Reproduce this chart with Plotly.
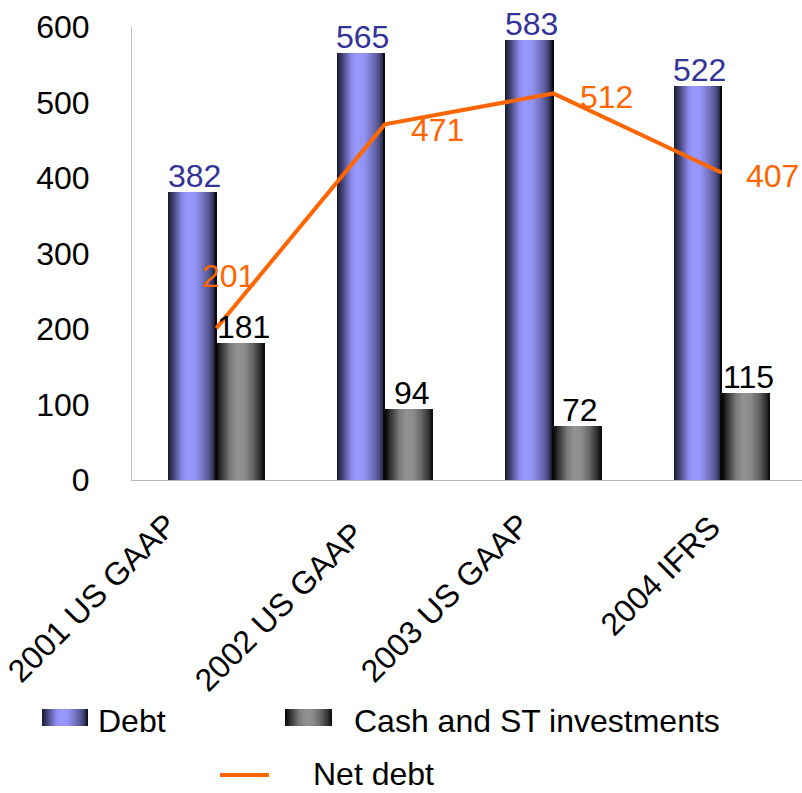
import plotly.graph_objects as go

# ---- data ----
categories = ["2001 US GAAP", "2002 US GAAP", "2003 US GAAP", "2004 IFRS"]
debt = [382, 565, 583, 522]
cash = [181, 94, 72, 115]
net_debt = [201, 471, 512, 407]
y_ticks = [0, 100, 200, 300, 400, 500, 600]

FONT = "Liberation Sans, Arial, sans-serif"
FS = 32

# geometry helpers (layout only)
L, R, T, B = 132, 802, 27, 480          # plot area in pixels
def fx(px):
    return (px - L) / (R - L)
def fy(py):
    return (B - py) / (B - T)

# gradient colour helpers
def hex2rgb(h):
    h = h.lstrip("#")
    return tuple(int(h[i:i + 2], 16) for i in (0, 2, 4))

def sample(scale, t):
    for (t0, c0), (t1, c1) in zip(scale[:-1], scale[1:]):
        if t0 <= t <= t1:
            f = 0 if t1 == t0 else (t - t0) / (t1 - t0)
            a, b = hex2rgb(c0), hex2rgb(c1)
            return "rgb(%d,%d,%d)" % tuple(round(a[i] + (b[i] - a[i]) * f) for i in range(3))
    return scale[-1][1]

debt_scale = [(0, "#1a1a30"), (0.12, "#45457a"), (0.3, "#8a8aec"), (0.4, "#9898ff"),
              (0.56, "#9393f6"), (0.72, "#7575c4"), (0.87, "#50508a"), (0.95, "#2c2c4c"),
              (1.0, "#000000")]
cash_scale = [(0, "#000000"), (0.1, "#2e2e2e"), (0.3, "#7c7c7c"), (0.45, "#929292"),
              (0.6, "#8a8a8a"), (0.76, "#666666"), (0.9, "#363636"), (1.0, "#0c0c0c")]

K = 48
BW = 48 / 168.5   # bar width in category units

fig = go.Figure()

def add_gradient_bars(values, name, scale, base):
    # each slice reaches to the bar's right edge; later slices cover earlier ones
    for j in range(K):
        t = (j + 0.5) / K
        fig.add_trace(go.Bar(
            x=categories, y=values, name=name,
            width=BW * (K - j) / K, offset=base + j * BW / K,
            marker=dict(color=sample(scale, t), line=dict(width=0)),
            showlegend=False,
            hoverinfo="x+y+name" if j == 0 else "skip",
        ))

add_gradient_bars(debt, "Debt", debt_scale, -BW)
add_gradient_bars(cash, "Cash and ST investments", cash_scale, 0)

fig.add_trace(go.Scatter(
    x=categories, y=net_debt, name="Net debt", mode="lines",
    line=dict(color="#ff6600", width=4), showlegend=False, cliponaxis=False,
))

annotations = []
# value labels
for c, v in zip(categories, debt):
    annotations.append(dict(x=c, y=v, xref="x", yref="y", text=str(v), showarrow=False,
                            xanchor="center", yanchor="bottom", xshift=-22, yshift=-4,
                            font=dict(family=FONT, size=FS, color="#333399")))
for c, v in zip(categories, cash):
    annotations.append(dict(x=c, y=v, xref="x", yref="y", text=str(v), showarrow=False,
                            xanchor="center", yanchor="bottom", xshift=27, yshift=-4,
                            font=dict(family=FONT, size=FS, color="#000000")))
nd_shift = [(12, 52), (53, -6), (53, -4), (51, -3)]
for c, v, (dx, dy) in zip(categories, net_debt, nd_shift):
    annotations.append(dict(x=c, y=v, xref="x", yref="y", text=str(v), showarrow=False,
                            xanchor="center", yanchor="middle", xshift=dx, yshift=dy,
                            font=dict(family=FONT, size=FS, color="#ff6600")))

# rotated category labels
label_centers = [(92, 598), (279, 607), (445, 598), (660, 576)]
for c, (px, py) in zip(categories, label_centers):
    annotations.append(dict(x=fx(px), y=fy(py), xref="paper", yref="paper", text=c,
                            showarrow=False, textangle=-45, xanchor="center", yanchor="middle",
                            font=dict(family=FONT, size=FS, color="#000000")))

# legend (manual)
shapes = []
def swatch(x0, x1, y0, y1, scale):
    n = 24
    for j in range(n):
        shapes.append(dict(type="rect", xref="paper", yref="paper",
                           x0=fx(x0 + (x1 - x0) * j / n), x1=fx(x1),
                           y0=fy(y1), y1=fy(y0), line=dict(width=0),
                           fillcolor=sample(scale, (j + 0.5) / n)))

swatch(42, 88, 709, 726, debt_scale)
swatch(285, 332, 709, 726, cash_scale)
shapes.append(dict(type="line", xref="paper", yref="paper", x0=fx(220), x1=fx(269),
                   y0=fy(775), y1=fy(775), line=dict(color="#ff6600", width=4)))
for txt, px, py in [("Debt", 96, 721), ("Cash and ST investments", 352, 721), ("Net debt", 311, 774)]:
    annotations.append(dict(x=fx(px), y=fy(py), xref="paper", yref="paper", text=txt,
                            showarrow=False, xanchor="left", yanchor="middle",
                            font=dict(family=FONT, size=FS, color="#000000")))

fig.update_layout(
    width=802, height=793,
    margin=dict(l=L, r=802 - R, t=T, b=793 - B),
    barmode="overlay", bargap=0, bargroupgap=0,
    plot_bgcolor="white", paper_bgcolor="white",
    showlegend=False,
    annotations=annotations, shapes=shapes,
    font=dict(family=FONT, size=FS, color="#000000"),
)
fig.update_xaxes(
    type="category", categoryarray=categories, range=[-0.5, 3.476],
    showticklabels=False, ticks="", showgrid=False, zeroline=False,
    showline=True, linecolor="#b4b4b4", linewidth=1,
)
fig.update_yaxes(
    range=[0, 600], tickvals=y_ticks, ticks="", showgrid=False, zeroline=False,
    showline=True, linecolor="#c0c0c0", linewidth=1,
    tickfont=dict(family=FONT, size=FS, color="#000000"), ticklabelstandoff=35,
)

fig.write_html(
    "out.html",
    config={"displayModeBar": False},
    post_script="document.body.style.margin='0';document.body.style.padding='0';"
                "document.documentElement.style.overflow='hidden';",
)
